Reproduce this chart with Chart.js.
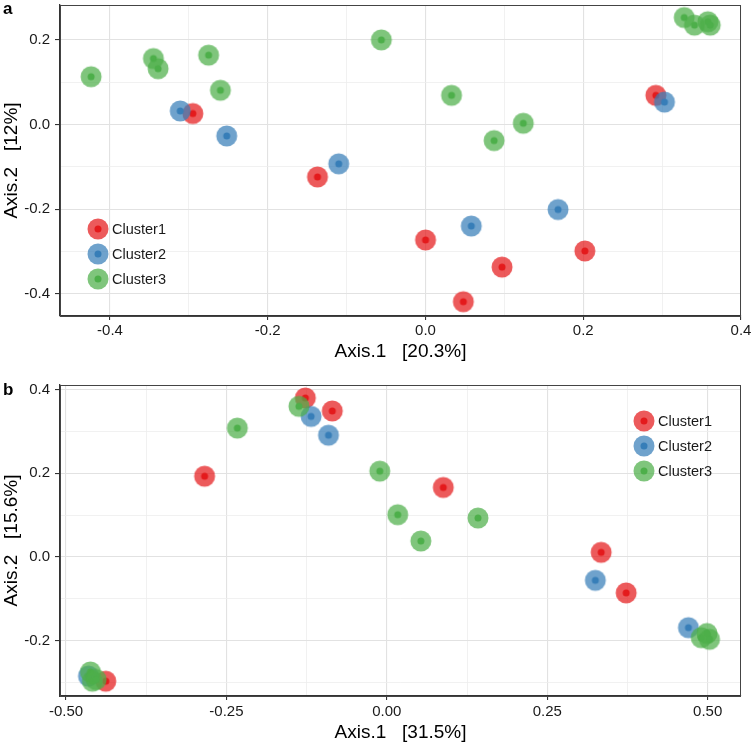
<!DOCTYPE html>
<html lang="en">
<head>
  <meta charset="UTF-8" />
  <title>Ordination by cluster</title>
  <script src="https://cdn.jsdelivr.net/npm/chart.js"></script>
  <style>
    html, body { margin: 0; background: #fff; }
    #wrap { position: relative; width: 753px; height: 746px; overflow: hidden; }
    .panel { position: absolute; left: 0; width: 753px; height: 373px; }
    #panelA { top: 0; }
    #panelB { top: 373px; }
    .tag {
      position: absolute; left: 3px; line-height: 1;
      font: bold 17px 'Liberation Sans', Arial, sans-serif; color: #000;
    }
  </style>
</head>
<body>
<div id="wrap">
  <div class="panel" id="panelA"><canvas id="chartA" width="753" height="373"></canvas></div>
  <div class="panel" id="panelB"><canvas id="chartB" width="753" height="373"></canvas></div>
  <div class="tag" style="top:-1px">a</div>
  <div class="tag" style="top:380px">b</div>
</div>
<script>
  const clusterNames = ['Cluster1', 'Cluster2', 'Cluster3'];
  const clusterColors = ['#E41A1C', '#377EB8', '#4DAF4A'];

  // panel a : Axis.1 [20.3%] vs Axis.2 [12%]
  const aCluster1 = [[-0.295, 0.026], [-0.137, -0.124], [0.000, -0.273], [0.048, -0.419],
                     [0.097, -0.337], [0.202, -0.299], [0.292, 0.069]];
  const aCluster2 = [[-0.311, 0.032], [-0.252, -0.027], [-0.110, -0.093], [0.058, -0.240],
                     [0.168, -0.201], [0.303, 0.053]];
  const aCluster3 = [[-0.424, 0.113], [-0.345, 0.156], [-0.339, 0.132], [-0.275, 0.164],
                     [-0.260, 0.081], [-0.056, 0.200], [0.033, 0.069], [0.087, -0.038],
                     [0.124, 0.003], [0.328, 0.253], [0.341, 0.235], [0.358, 0.243], [0.361, 0.235]];
  const aXTicks = [-0.4, -0.2, 0.0, 0.2, 0.4];
  const aYTicks = [-0.4, -0.2, 0.0, 0.2];

  // panel b : Axis.1 [31.5%] vs Axis.2 [15.6%]
  const bCluster1 = [[-0.438, -0.297], [-0.284, 0.193], [-0.127, 0.380], [-0.085, 0.349],
                     [0.088, 0.166], [0.334, 0.011], [0.373, -0.086]];
  const bCluster2 = [[-0.465, -0.285], [-0.118, 0.336], [-0.091, 0.291], [0.325, -0.056],
                     [0.470, -0.169]];
  const bCluster3 = [[-0.462, -0.275], [-0.459, -0.297], [-0.453, -0.293], [-0.233, 0.308],
                     [-0.137, 0.360], [-0.011, 0.205], [0.017, 0.101], [0.053, 0.038],
                     [0.142, 0.093], [0.490, -0.193], [0.499, -0.183], [0.503, -0.197]];
  const bXTicks = [-0.50, -0.25, 0.00, 0.25, 0.50];
  const bYTicks = [-0.2, 0.0, 0.2, 0.4];

  const FONT = "'Liberation Sans', Arial, sans-serif";
  const near = (v, list) => list.some(m => Math.abs(m - v) < 1e-6);
  const fmt = (v, d) => (Math.round(v * 1000) / 1000 + 0).toFixed(d);

  // big translucent disc with a solid centre dot
  function dotImage(color) {
    const c = document.createElement('canvas');
    c.width = c.height = 24;
    const g = c.getContext('2d');
    g.fillStyle = color;
    g.globalAlpha = 0.72;
    g.beginPath(); g.arc(12, 12, 10.5, 0, Math.PI * 2); g.fill();
    g.globalAlpha = 1;
    g.beginPath(); g.arc(12, 12, 3.5, 0, Math.PI * 2); g.fill();
    return c;
  }
  const dots = clusterColors.map(dotImage);

  const framePlugin = {
    id: 'frame',
    afterDatasetsDraw(chart) {
      const a = chart.chartArea, ctx = chart.ctx;
      ctx.save();
      ctx.strokeStyle = '#444';
      ctx.lineWidth = 1;
      ctx.strokeRect(a.left + 0.5, a.top + 0.5, a.right - a.left - 1, a.bottom - a.top);
      ctx.restore();
    }
  };

  const legendPlugin = {
    id: 'clusterLegend',
    afterDraw(chart, args, opts) {
      const ctx = chart.ctx;
      ctx.save();
      ctx.font = '14.5px ' + FONT;
      ctx.fillStyle = '#1a1a1a';
      ctx.textBaseline = 'middle';
      clusterNames.forEach((name, i) => {
        const y = opts.y + i * opts.gap;
        const img = dots[i];
        ctx.drawImage(img, opts.x - img.width / 2, y - img.height / 2);
        ctx.fillText(name, opts.x + 14, y + 1);
      });
      ctx.restore();
    }
  };

  function axis(o) {
    const major = c => c.tick && near(c.tick.value, o.majors);
    return {
      type: 'linear',
      position: o.pos,
      min: o.min, max: o.max,
      afterFit: s => {
        if (o.pos === 'bottom') s.height = o.size; else s.width = o.size;
        s.paddingTop = 0; s.paddingBottom = 0; s.paddingLeft = 0; s.paddingRight = 0;
      },
      ticks: {
        stepSize: o.step, includeBounds: false, autoSkip: false, maxRotation: 0,
        padding: o.pad, color: '#1a1a1a', font: { family: FONT, size: 15 },
        callback: v => near(v, o.majors) ? fmt(v, o.digits) : ''
      },
      grid: {
        color: c => major(c) ? '#e2e2e2' : '#eeeeee',
        lineWidth: c => major(c) ? 1.1 : 0.8,
        tickLength: o.tl,
        tickColor: c => major(c) ? '#333' : 'rgba(0,0,0,0)'
      },
      border: { color: '#333', width: 1.3 },
      title: {
        display: true, text: o.title, color: '#000',
        font: { family: FONT, size: 19 },
        padding: o.titlePad
      }
    };
  }

  function datasets(groups) {
    return groups.map((pts, i) => ({
      label: clusterNames[i],
      data: pts.map(p => ({ x: p[0], y: p[1] })),
      pointStyle: dots[i],
      pointRadius: 10,
      order: 3 - i
    }));
  }

  function makeChart(id, groups, cfg) {
    return new Chart(document.getElementById(id), {
      type: 'scatter',
      data: { datasets: datasets(groups) },
      options: {
        responsive: false,
        animation: false,
        events: [],
        layout: { padding: cfg.padding, autoPadding: false },
        plugins: {
          legend: { display: false },
          tooltip: { enabled: false },
          clusterLegend: cfg.legend
        },
        scales: { x: axis(cfg.x), y: axis(cfg.y) }
      },
      plugins: [framePlugin, legendPlugin]
    });
  }

  makeChart('chartA', [aCluster1, aCluster2, aCluster3], {
    padding: { left: 0, top: 5, right: 12, bottom: 0 },
    legend: { x: 98, y: 229, gap: 25 },
    x: { pos: 'bottom', min: -0.4634, max: 0.4, step: 0.1, majors: aXTicks, digits: 1,
         size: 57, tl: 4, pad: 2, title: 'Axis.1   [20.3%]', titlePad: { top: 0, bottom: 9.6 } },
    y: { pos: 'left', min: -0.4527, max: 0.2826, step: 0.1, majors: aYTicks, digits: 1,
         size: 60, tl: 5, pad: 5, title: 'Axis.2   [12%]', titlePad: { top: 0.6, bottom: 0 } }
  });

  makeChart('chartB', [bCluster1, bCluster2, bCluster3], {
    padding: { left: 0, top: 12, right: 12, bottom: 0 },
    legend: { x: 644, y: 48, gap: 25 },
    x: { pos: 'bottom', min: -0.5094, max: 0.552, step: 0.125, majors: bXTicks, digits: 2,
         size: 50, tl: 4, pad: 3, title: 'Axis.1   [31.5%]', titlePad: { top: 0, bottom: 1.9 } },
    y: { pos: 'left', min: -0.3324, max: 0.411, step: 0.1, majors: bYTicks, digits: 1,
         size: 60, tl: 5, pad: 5, title: 'Axis.2   [15.6%]', titlePad: { top: 0.6, bottom: 0 } }
  });
</script>
</body>
</html>
